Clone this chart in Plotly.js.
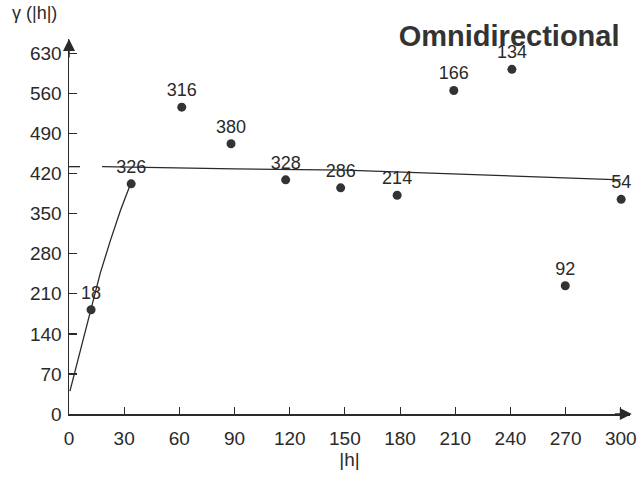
<!DOCTYPE html>
<html>
<head>
<meta charset="utf-8">
<script src="https://cdn.plot.ly/plotly-3.0.1.min.js"></script>
<style>html,body{margin:0;padding:0;background:#fff;}#chart{width:638px;height:483px;}</style>
</head>
<body>
<div id="chart"></div>
<script>
// Experimental variogram points (lag |h|, gamma, number of pairs)
var lagH = [12, 33.8, 61.3, 88.1, 117.8, 147.7, 178.4, 209.2, 240.8, 269.8, 300.2];
var gammaVals = [182, 402, 536, 472, 409, 395, 382, 565, 602, 224, 375];
var pairCounts = ["18", "326", "316", "380", "328", "286", "214", "166", "134", "92", "54"];

// Fitted model
var modelH = [0.5, 12, 17, 22.4, 28, 33.5];
var modelGamma = [40, 180, 246, 302, 356, 402];
var sillH = [0, 6, null, 18, 90, 150, 210, 300];
var sillGamma = [432, 432, null, 432, 428, 426, 419, 409];

var xTicks = [0, 30, 60, 90, 120, 150, 180, 210, 240, 270, 300];
var yTicks = [0, 70, 140, 210, 280, 350, 420, 490, 560, 630];

var ink = '#2a2a2a';
var fontFam = 'Liberation Sans, Arial, Helvetica, sans-serif';

var traces = [
  {x: modelH, y: modelGamma, mode: 'lines', line: {color: ink, width: 1.3}, hoverinfo: 'skip', cliponaxis: false},
  {x: sillH, y: sillGamma, mode: 'lines', line: {color: ink, width: 1.3}, hoverinfo: 'skip', cliponaxis: false, connectgaps: false},
  {x: lagH, y: gammaVals, mode: 'markers+text', text: pairCounts, textposition: 'top center',
   textfont: {family: fontFam, size: 18, color: ink},
   marker: {color: '#333', size: 9}, cliponaxis: false}
];

var layout = {
  width: 638, height: 483,
  margin: {l: 69, r: 8, t: 39, b: 69},
  paper_bgcolor: '#fff', plot_bgcolor: '#fff',
  showlegend: false,
  font: {family: fontFam, color: ink},
  title: {text: 'Omnidirectional', font: {family: fontFam, size: 29, color: '#333', weight: 'bold'},
          x: 0.798, xref: 'container', xanchor: 'center', y: 0.925, yref: 'container', yanchor: 'middle'},
  xaxis: {range: [0, 305], tickvals: xTicks, ticktext: xTicks.map(String), ticks: 'inside', ticklen: 7,
          tickcolor: ink, tickwidth: 1, showline: true, linecolor: ink, linewidth: 1.5, showgrid: false,
          zeroline: false, tickfont: {size: 19, color: ink}, ticklabelstandoff: 7,
          title: {text: '|h|', font: {size: 19, color: ink}, standoff: 0}},
  yaxis: {range: [0, 655], tickvals: yTicks, ticktext: yTicks.map(String), ticks: 'inside', ticklen: 8,
          tickcolor: ink, tickwidth: 1.3, showline: true, linecolor: ink, linewidth: 1.5, showgrid: false,
          zeroline: false, tickfont: {size: 19, color: ink}, ticklabelstandoff: 2},
  annotations: [
    {xref: 'paper', yref: 'paper', x: -0.106, y: 1.068, xanchor: 'left', yanchor: 'middle', showarrow: false,
     text: 'γ (|h|)', font: {size: 18, color: ink}},
    {xref: 'x', yref: 'y', x: 0, y: 655, axref: 'x', ayref: 'y', ax: 0, ay: 620, showarrow: true,
     arrowhead: 2, arrowsize: 1.6, arrowwidth: 1.5, arrowcolor: ink, text: ''},
    {xref: 'x', yref: 'y', x: 306, y: 0, axref: 'x', ayref: 'y', ax: 296, ay: 0, showarrow: true,
     arrowhead: 2, arrowsize: 1.6, arrowwidth: 1.5, arrowcolor: ink, text: ''}
  ]
};

Plotly.newPlot('chart', traces, layout, {displayModeBar: false, staticPlot: true});
</script>
</body>
</html>
